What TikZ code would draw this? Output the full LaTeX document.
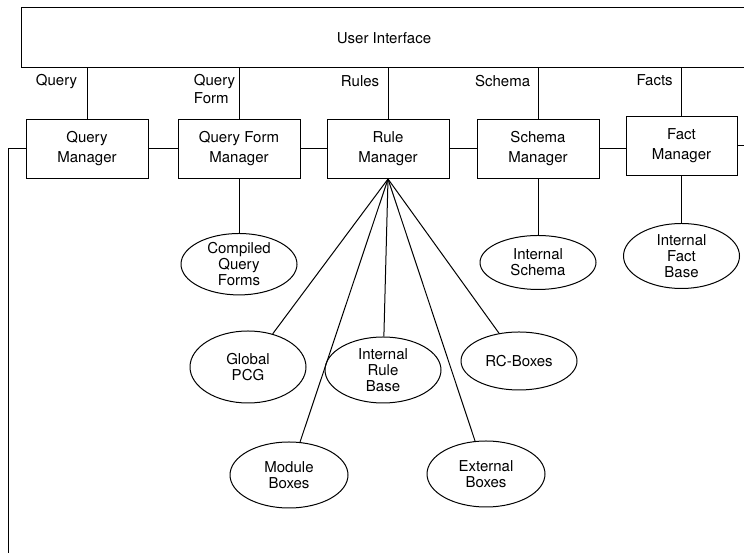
\documentclass[tikz,border=0pt]{standalone}
\usepackage{fontspec}
\setmainfont{TeX Gyre Heros}
\usepackage{tikz}
\usetikzlibrary{positioning,shapes}
\tikzstyle{exterior}=[
	rectangle,
	draw=black,
	line width=1pt]
\tikzstyle{gestor}=[
	exterior,
	align=center,
	minimum width=122,
	minimum height=59,
	font=\fontsize{15}{20}\selectfont]
\tikzstyle{almacen}=[
	ellipse,
	draw=black,
	line width=1pt,
	align=center,
	inner sep=0pt,
	minimum width=116,
	font=\fontsize{15}{16}\selectfont]

\begin{document}
\begin{tikzpicture}[x=1pt,y=1pt,line width=1pt,font=\fontsize{15}{18}\selectfont]
	\clip (0,0) rectangle (744,553);
	\node[exterior,minimum width=726,minimum height=60] (ui) at (384,515) {User Interface};
	\node[gestor]	(qm)	at (87,404)	{Query\\Manager};
	\node[gestor]	(qfm)	[right=29pt of qm]	{Query Form\\Manager};
	\node[gestor]	(rm)	[right=26pt of qfm]	{Rule\\Manager};
	\node[gestor]	(sm)	[right=27pt of rm]	{Schema\\Manager};
	\node[gestor,minimum width=111]	(fm)	[right=26pt of sm,yshift=3pt]	{Fact\\Manager};
	\draw (qm.north) -- node[pos=.75,left=6pt] {Query} (qm.north |- ui.south);
	\draw (qfm.north) -- node[pos=.6,left,align=left] {Query\\Form} (qfm.north |- ui.south);
	\draw (rm.north) -- node[pos=.75,left=5pt] {Rules} (rm.north |- ui.south);
	\draw (sm.north) -- node[pos=.75,left=4pt] {Schema} (sm.north |- ui.south);
	\draw (fm.north) -- node[pos=.75,left=5pt] {Facts} (fm.north |- ui.south);
	\draw (qm.east) -- (qfm.west);
	\draw (qfm.east) -- (rm.west);
	\draw (rm.east) -- (sm.west);
	\draw (sm.east) -- (sm.east -| fm.west);
	\coordinate (borde izq) at (8,0);
	\coordinate (borde der) at (750,0);
	\draw (qm.west) -| (borde izq);
	\draw (fm.east) -- (fm.east -| borde der);
	\node[almacen,minimum height=57]	(cqf)	[below=54pt of qfm]	{Compiled\\Query\\Forms};
	\node[almacen,minimum height=54]	(isch)	[below=56pt of sm]	{Internal\\Schema};
	\node[almacen,minimum height=65]	(ifb)	[below=47pt of fm]	{Internal\\Fact\\Base};
	\draw (qfm.south) -- (cqf);
	\draw (sm.south) -- (isch);
	\draw (fm.south) -- (ifb);
	\node[almacen,minimum height=72]	(gpcg)	at (248,186)	{Global\\PCG};
	\node[almacen,minimum height=66]	(irb)	at (383,183)	{Internal\\Rule\\Base};
	\node[almacen,minimum height=58]	(rcb)	at (519,192)	{RC-Boxes};
	\node[almacen,minimum width=118,minimum height=66]	(mb)	at (289,78)	{Module\\Boxes};
	\node[almacen,minimum width=118,minimum height=66]	(eb)	at (486,79)	{External\\Boxes};
	\draw (rm.south) -- (gpcg);
	\draw (rm.south) -- (mb);
	\draw (rm.south) -- (irb);
	\draw (rm.south) -- (eb);
	\draw (rm.south) -- (rcb);
\end{tikzpicture}
\end{document}
